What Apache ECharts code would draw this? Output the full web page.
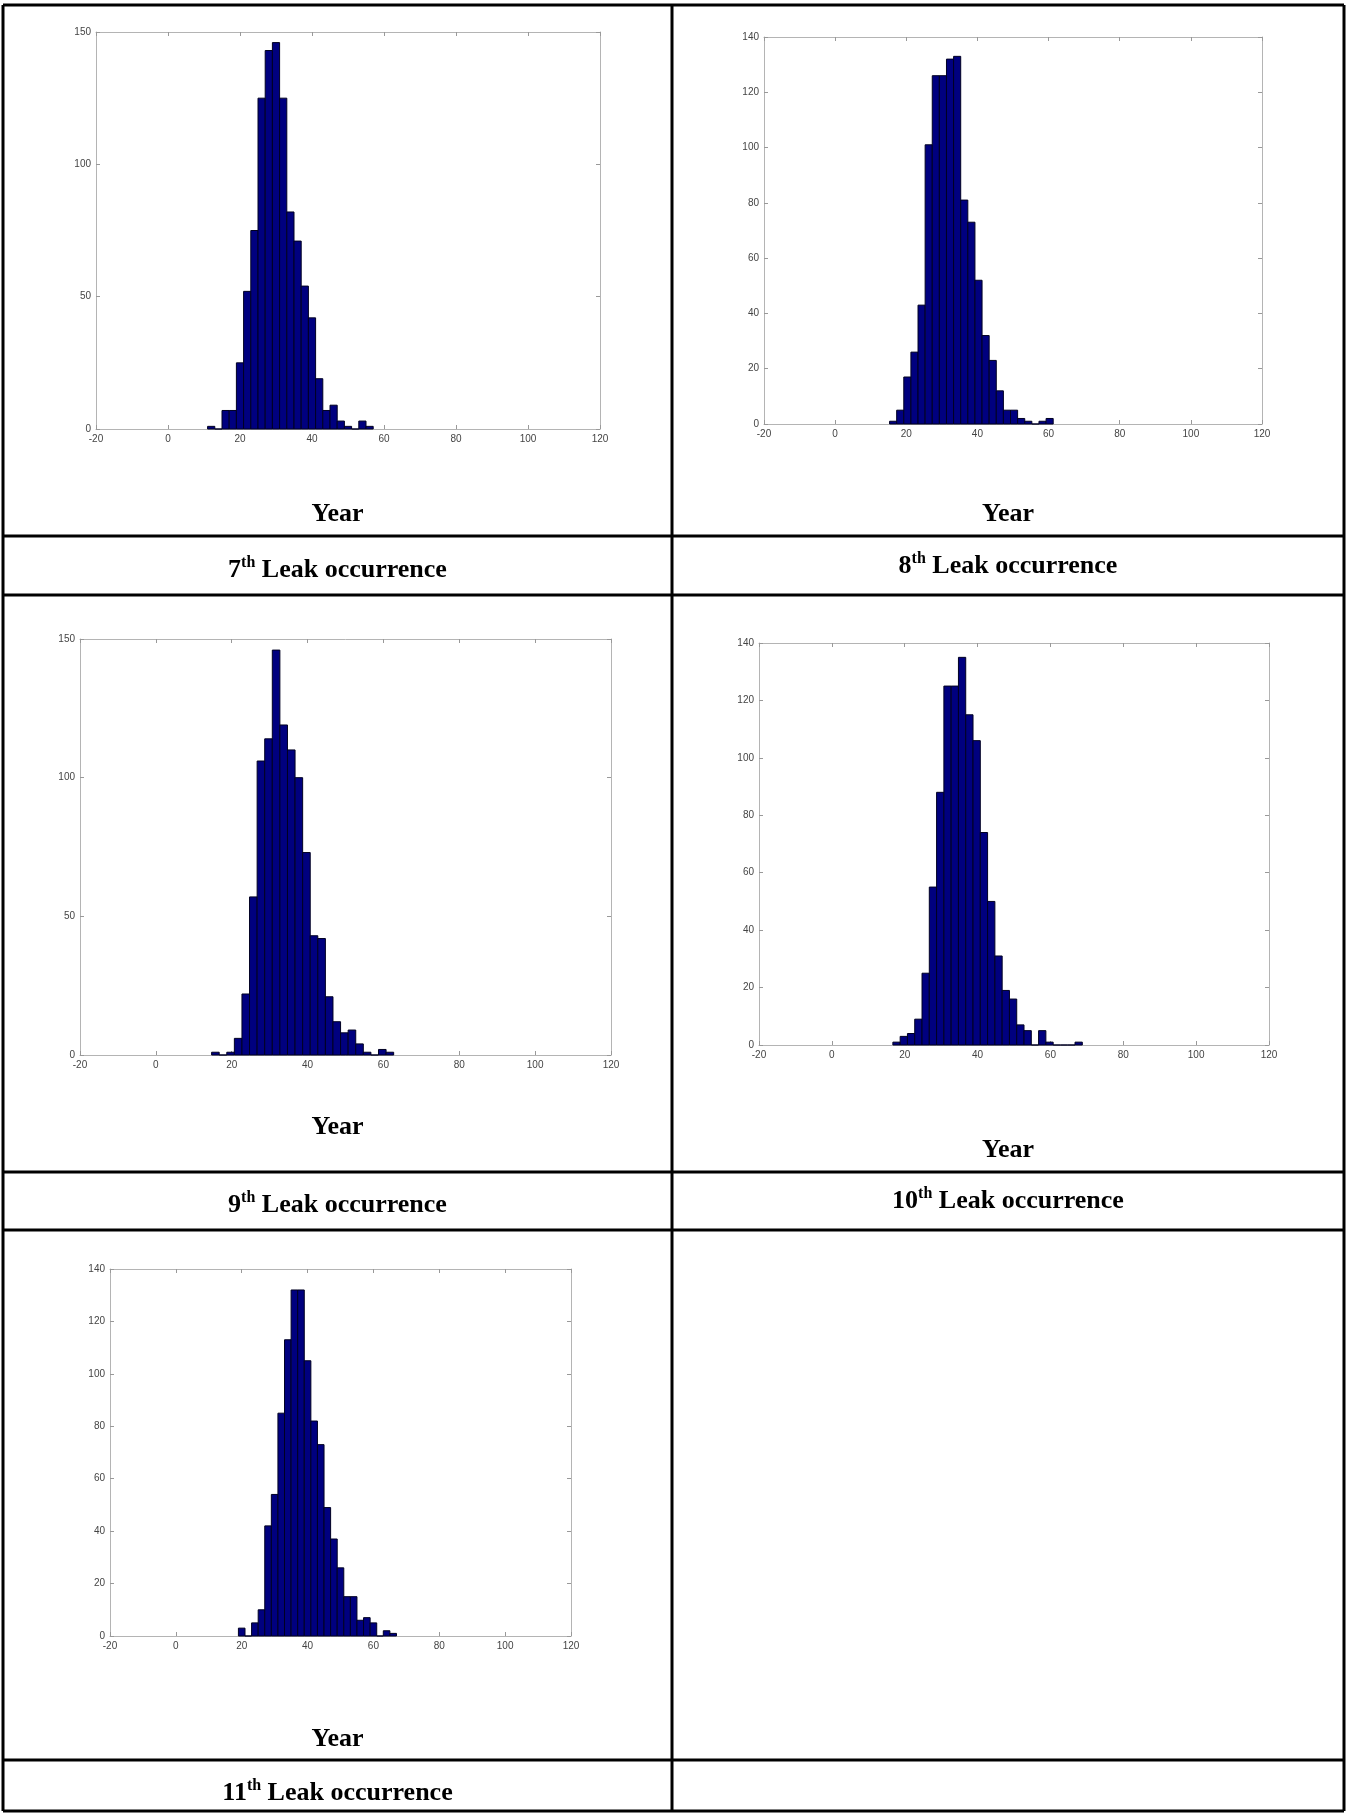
<!DOCTYPE html>
<html>
<head>
<meta charset="utf-8">
<title>Leak occurrence histograms</title>
<script src="https://cdn.jsdelivr.net/npm/echarts@6/dist/echarts.min.js"></script>
<style>
  html, body { margin: 0; padding: 0; background: #fff; }
  #main { width: 1351px; height: 1814px; }
</style>
</head>
<body>
<div id="main"></div>
<script>
// year axis, same for every panel
var yearMin = -20;
var yearMax = 120;
var yearStep = 20;

// 7th leak occurrence (bin centres in years, counts)
var bins7 = [12, 14, 16, 18, 20, 22, 24, 26, 28, 30, 32, 34, 36, 38, 40, 42, 44, 46, 48, 50, 52, 54, 56];
var counts7 = [1, 0, 7, 7, 25, 52, 75, 125, 143, 146, 125, 82, 71, 54, 42, 19, 7, 9, 3, 1, 0, 3, 1];

// 8th leak occurrence
var bins8 = [16.3, 18.3, 20.3, 22.3, 24.3, 26.3, 28.3, 30.3, 32.3, 34.3, 36.3, 38.3, 40.3, 42.3, 44.3, 46.3, 48.3, 50.3, 52.3, 54.3, 56.3, 58.3, 60.3];
var counts8 = [1, 5, 17, 26, 43, 101, 126, 126, 132, 133, 81, 73, 52, 32, 23, 12, 5, 5, 2, 1, 0, 1, 2];

// 9th leak occurrence
var bins9 = [15.7, 17.7, 19.7, 21.7, 23.7, 25.7, 27.7, 29.7, 31.7, 33.7, 35.7, 37.7, 39.7, 41.7, 43.7, 45.7, 47.7, 49.7, 51.7, 53.7, 55.7, 57.7, 59.7, 61.7];
var counts9 = [1, 0, 1, 6, 22, 57, 106, 114, 146, 119, 110, 100, 73, 43, 42, 21, 12, 8, 9, 4, 1, 0, 2, 1];

// 10th leak occurrence
var bins10 = [17.75, 19.75, 21.75, 23.75, 25.75, 27.75, 29.75, 31.75, 33.75, 35.75, 37.75, 39.75, 41.75, 43.75, 45.75, 47.75, 49.75, 51.75, 53.75, 55.75, 57.75, 59.75, 61.75, 63.75, 65.75, 67.75];
var counts10 = [1, 3, 4, 9, 25, 55, 88, 125, 125, 135, 115, 106, 74, 50, 31, 19, 16, 7, 5, 0, 5, 1, 0, 0, 0, 1];

// 11th leak occurrence
var bins11 = [20, 22, 24, 26, 28, 30, 32, 34, 36, 38, 40, 42, 44, 46, 48, 50, 52, 54, 56, 58, 60, 62, 64, 66];
var counts11 = [3, 0, 5, 10, 42, 54, 85, 113, 132, 132, 105, 82, 73, 49, 37, 26, 15, 15, 6, 7, 5, 0, 2, 1];

var binWidth = 2;

var barColor = "#00007f";
var edgeColor = "#000022";
var boxColor = "#b4b4b4";

var panels = [
  { bins: bins7, counts: counts7, yMax: 150, yStep: 50, left: 96, top: 32, width: 504, height: 397 },
  { bins: bins8, counts: counts8, yMax: 140, yStep: 20, left: 764, top: 37, width: 498, height: 387 },
  { bins: bins9, counts: counts9, yMax: 150, yStep: 50, left: 80, top: 639, width: 531, height: 416 },
  { bins: bins10, counts: counts10, yMax: 140, yStep: 20, left: 759, top: 643, width: 510, height: 402 },
  { bins: bins11, counts: counts11, yMax: 140, yStep: 20, left: 110, top: 1269, width: 461, height: 367 }
];

var chart = echarts.init(document.getElementById("main"), null, { renderer: "canvas" });

function histItem(params, api) {
  var c = api.value(0);
  var n = api.value(1);
  var p0 = api.coord([c - binWidth / 2, n]);
  var p1 = api.coord([c + binWidth / 2, 0]);
  return {
    type: "rect",
    shape: { x: p0[0], y: p0[1], width: p1[0] - p0[0], height: p1[1] - p0[1] },
    style: { fill: barColor, stroke: edgeColor, lineWidth: 1 }
  };
}

function axisCommon(showLabel) {
  return {
    axisLine: { show: true, onZero: false, lineStyle: { color: boxColor, width: 1 } },
    axisTick: { show: true, inside: true, length: 4, lineStyle: { color: "#999" } },
    axisLabel: {
      show: showLabel,
      fontSize: 10,
      color: "#444",
      fontFamily: "Liberation Sans",
      margin: 5
    },
    splitLine: { show: false }
  };
}

var grids = [];
var xAxes = [];
var yAxes = [];
var series = [];

panels.forEach(function (p, i) {
  grids.push({ left: p.left, top: p.top, width: p.width, height: p.height, containLabel: false });

  // bottom + top year axes
  xAxes.push(Object.assign({ type: "value", gridIndex: i, position: "bottom", min: yearMin, max: yearMax, interval: yearStep }, axisCommon(true)));
  xAxes.push(Object.assign({ type: "value", gridIndex: i, position: "top", min: yearMin, max: yearMax, interval: yearStep }, axisCommon(false)));

  // left + right count axes
  yAxes.push(Object.assign({ type: "value", gridIndex: i, position: "left", min: 0, max: p.yMax, interval: p.yStep }, axisCommon(true)));
  yAxes.push(Object.assign({ type: "value", gridIndex: i, position: "right", min: 0, max: p.yMax, interval: p.yStep }, axisCommon(false)));

  var data = p.bins.map(function (b, k) { return [b, p.counts[k]]; });
  series.push({
    type: "custom",
    xAxisIndex: i * 2,
    yAxisIndex: i * 2,
    renderItem: histItem,
    data: data,
    silent: true
  });
});

// table frame
var tableLeft = 3, tableRight = 1344, tableTop = 5, tableBottom = 1811, colSplit = 672;
var rowLines = [536, 595, 1172, 1230, 1760];

var lineStyle = { stroke: "#000", lineWidth: 3 };
var graphics = [
  { type: "line", shape: { x1: tableLeft, y1: tableTop, x2: tableRight, y2: tableTop }, style: lineStyle },
  { type: "line", shape: { x1: tableLeft, y1: tableBottom, x2: tableRight, y2: tableBottom }, style: lineStyle },
  { type: "line", shape: { x1: tableLeft, y1: tableTop, x2: tableLeft, y2: tableBottom }, style: lineStyle },
  { type: "line", shape: { x1: tableRight, y1: tableTop, x2: tableRight, y2: tableBottom }, style: lineStyle },
  { type: "line", shape: { x1: colSplit, y1: tableTop, x2: colSplit, y2: tableBottom }, style: lineStyle }
];
rowLines.forEach(function (y) {
  graphics.push({ type: "line", shape: { x1: tableLeft, y1: y, x2: tableRight, y2: y }, style: lineStyle });
});

var leftCol = (tableLeft + colSplit) / 2;
var rightCol = (colSplit + tableRight) / 2;

var yearLabels = [[leftCol, 514], [rightCol, 514], [leftCol, 1127], [rightCol, 1150], [leftCol, 1739]];
yearLabels.forEach(function (pos) {
  graphics.push({
    type: "text",
    x: pos[0], y: pos[1],
    style: {
      text: "Year",
      align: "center", verticalAlign: "middle",
      font: "bold 26px 'Liberation Serif'",
      fill: "#000"
    }
  });
});

var captionNums = ["7", "8", "9", "10", "11"];
var captionPos = [[leftCol, 569], [rightCol, 565], [leftCol, 1204], [rightCol, 1200], [leftCol, 1792]];
captionNums.forEach(function (num, i) {
  graphics.push({
    type: "text",
    x: captionPos[i][0], y: captionPos[i][1],
    style: {
      text: "{n|" + num + "}{s|th}{n| Leak occurrence}",
      align: "center", verticalAlign: "middle",
      rich: {
        n: { fontSize: 26, fontWeight: "bold", fontFamily: "Liberation Serif", color: "#000", verticalAlign: "bottom", lineHeight: 28 },
        s: { fontSize: 16, fontWeight: "bold", fontFamily: "Liberation Serif", color: "#000", verticalAlign: "top", lineHeight: 14 }
      }
    }
  });
});

chart.setOption({
  backgroundColor: "#fff",
  animation: false,
  grid: grids,
  xAxis: xAxes,
  yAxis: yAxes,
  series: series,
  graphic: graphics
});
</script>
</body>
</html>
